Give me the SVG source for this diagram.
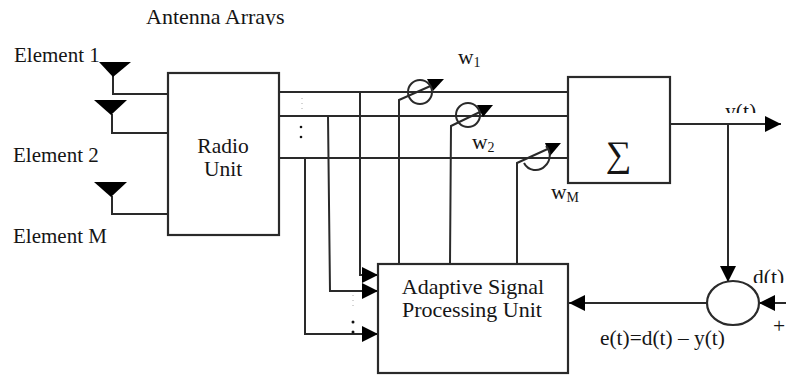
<svg xmlns="http://www.w3.org/2000/svg" width="786" height="376" viewBox="0 0 786 376">
<style>
text{font-family:"Liberation Serif","Times New Roman",serif;font-size:21.5px;fill:#151515}
.b{fill:#fff;stroke:#2a2a2a;stroke-width:2.2}
.l{fill:none;stroke:#2a2a2a;stroke-width:2}
.h{fill:#000;stroke:none}
.s{font-size:14px}
</style>
<defs>
<clipPath id="c1"><rect x="140" y="0" width="160" height="25"/></clipPath>
<clipPath id="c2"><rect x="715" y="104" width="60" height="9"/></clipPath>
<clipPath id="c3"><rect x="745" y="265" width="41" height="18"/></clipPath>
<marker id="a" markerUnits="userSpaceOnUse" markerWidth="17" markerHeight="16" refX="16" refY="8" orient="auto"><path class="h" d="M0 0L16 8L0 16Z"/></marker>
</defs>
<rect width="786" height="376" fill="#fff"/>
<g id="connectors">
<path class="l" d="M113 76V94H168M112 114V133H168M112 196V214H168"/>
<path class="l" d="M279 92H568M279 116H568M279 158H568"/>
<path class="l" d="M360 92V275H378" marker-end="url(#a)"/>
<path class="l" d="M328 116L330 291H378" marker-end="url(#a)"/>
<path class="l" d="M305 158V334H378" marker-end="url(#a)"/>
<path class="l" d="M399 264V100L435 84"/>
<path class="h" d="M427 79H444L433 91Z"/>
<path class="l" d="M450 264L451 126L484 110"/>
<path class="h" d="M477 105H493L483 117Z"/>
<path class="l" d="M517 264V163L552 147"/>
<path class="h" d="M545 143H561L550 156Z"/>
<path class="l" d="M670 124H781" marker-end="url(#a)"/>
<path class="l" d="M728 124V282" marker-end="url(#a)"/>
<path class="l" d="M706 303H569" marker-end="url(#a)"/>
<path class="l" d="M786 303H759" marker-end="url(#a)"/>
<path d="M302 98V113" stroke="#aaa" stroke-width="1" stroke-dasharray="1 4" fill="none"/>
<path d="M353 295V310" stroke="#aaa" stroke-width="1" stroke-dasharray="1 4" fill="none"/>
<circle cx="301" cy="127" r="1.3" fill="#111"/><circle cx="301" cy="137" r="1.3" fill="#111"/>
<circle cx="353" cy="322" r="1.5" fill="#111"/><circle cx="353" cy="332" r="1.5" fill="#111"/>
</g>
<g id="antenna-1"><path class="h" d="M99 62H131L113 77Z"/></g>
<g id="antenna-2"><path class="h" d="M94 100H127L111 115Z"/></g>
<g id="antenna-m"><path class="h" d="M94 182H127L111 197Z"/></g>
<g id="radio-unit"><rect class="b" x="168" y="73" width="111" height="162"/>
<text x="223" y="153" text-anchor="middle">Radio</text><text x="223" y="176" text-anchor="middle">Unit</text></g>
<g id="weight-1"><circle class="l" cx="420" cy="92" r="12"/></g>
<g id="weight-2"><circle class="l" cx="468" cy="115" r="12"/></g>
<g id="weight-m"><path class="l" d="M524 163A13 13 0 0 0 545 166A14 14 0 0 0 546 146"/></g>
<g id="sum"><rect class="b" x="568" y="77" width="102" height="106"/>
<text x="618.5" y="166" text-anchor="middle" style="font-size:36px" fill="#333">∑</text></g>
<g id="adaptive"><rect class="b" x="378" y="264" width="190" height="109"/>
<text x="473" y="294" text-anchor="middle" style="font-size:22px">Adaptive Signal</text><text x="472" y="317" text-anchor="middle" style="font-size:22px">Processing Unit</text></g>
<g id="error"><ellipse class="b" cx="733" cy="303" rx="26" ry="22"/></g>
<g id="labels">
<text x="146" y="24" clip-path="url(#c1)" style="font-size:22px">Antenna Arrays</text>
<text x="14" y="62" style="font-size:21px">Element 1</text>
<text x="13" y="162" style="font-size:21px">Element 2</text>
<text x="13" y="243" style="font-size:21px">Element M</text>
<text x="458" y="64">w<tspan class="s" dy="3">1</tspan></text>
<text x="472" y="149">w<tspan class="s" dy="3">2</tspan></text>
<text x="551" y="199">w<tspan class="s" dy="3">M</tspan></text>
<text x="725" y="118" clip-path="url(#c2)">y(t)</text>
<text x="753" y="284" clip-path="url(#c3)">d(t)</text>
<text x="773" y="333">+</text>
<text x="600" y="345" style="font-size:21.4px">e(t)=d(t) – y(t)</text>
</g>
</svg>
